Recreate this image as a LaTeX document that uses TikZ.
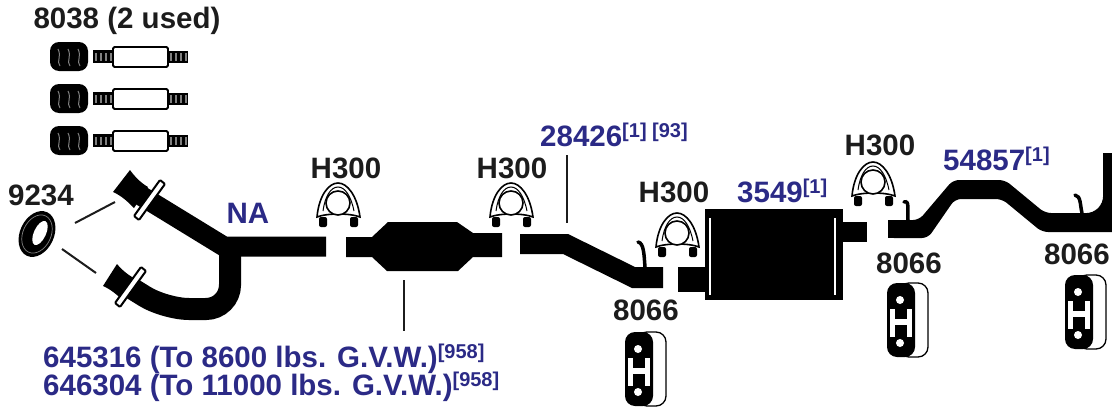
\documentclass[tikz,border=0pt]{standalone}
\usepackage{fontspec}
\setmainfont{Liberation Sans}
\definecolor{partblue}{HTML}{2B2A86}
\definecolor{partblack}{HTML}{1C1C1C}
\newcommand{\bigtxt}{\fontsize{29.5}{33}\selectfont\bfseries}
\newcommand{\suptxt}[1]{\raisebox{9pt}{\fontsize{20}{20}\selectfont\bfseries #1}}
\tikzset{
  partlabel/.style={text=partblack,font=\bigtxt,inner sep=0pt},
  bluelabel/.style={text=partblue,font=\bigtxt,inner sep=0pt},
  leader/.style={partblack,line width=2pt},
  hookline/.style={black,line width=3.5pt,line cap=round},
  pics/clampbolt/.style={code={
    \draw[fill=white,line width=1.6pt] (-21,14) .. controls (-19,-8) and (-9,-20) .. (0,-20) .. controls (9,-20) and (19,-8) .. (22,14) .. controls (12,10) and (-11,10) .. (-21,14) -- cycle;
    \draw[line width=1pt] (-15,8) .. controls (-13,-7) and (-7,-16) .. (0,-16) .. controls (7,-16) and (13,-7) .. (16,8);
    \draw[fill=white,line width=1.6pt] (0,0) circle (12pt);
    \fill[black,rounded corners=2pt] (-19,14) rectangle (-11,24);
    \fill[black,rounded corners=2pt] (12,14) rectangle (20,24);
  }},
  pics/hanger/.style={code={
    \draw[fill=white,line width=1.3pt,rounded corners=10pt] (12,0) rectangle (41,74);
    \fill[black,rounded corners=10pt] (0,0) rectangle (28,74);
    \fill[white] (13,17) circle (4pt);
    \fill[white] (13,60) circle (4pt);
    \fill[white] (3,26) rectangle (8,54);
    \fill[white] (20,26) rectangle (25,54);
    \fill[white] (3,36) rectangle (25,42);
  }},
  pics/isolator/.style={code={
    \fill[black,rounded corners=9pt] (50,-15) rectangle (88,14);
    \draw[gray,line width=1pt] (58,-8) .. controls (62,0) and (56,4) .. (60,9);
    \draw[gray,line width=1pt] (68,-8) .. controls (72,0) and (66,4) .. (70,9);
    \draw[gray,line width=1pt] (78,-8) .. controls (82,0) and (76,4) .. (80,9);
    \fill[black] (93,-7) rectangle (114,6);
    \fill[black] (167,-6) rectangle (188,6);
    \draw[gray,line width=8pt,dash pattern=on 2pt off 3pt] (95,0) -- (113,0);
    \draw[gray,line width=8pt,dash pattern=on 2pt off 3pt] (170,0) -- (187,0);
    \draw[fill=white,line width=1.8pt,rounded corners=1.5pt] (113,-10) rectangle (168,10);
  }}
}
\begin{document}
\begin{tikzpicture}[x=1pt,y=-1pt]
  \useasboundingbox (0,0) rectangle (1112,407);
  \clip (0,0) rectangle (1112,407);

  % Isolators
  \node[partlabel] (lbl8038) at (127,21) {8038 (2 used)};
  \pic at (0,57) {isolator};
  \pic at (0,99) {isolator};
  \pic at (0,141) {isolator};

  % Gasket
  \node[partlabel] (lbl9234) at (41,195) {9234};
  \fill[black] (37,234) ellipse [x radius=24pt,y radius=17pt,rotate=65];
  \draw[gray,line width=.7pt] (37,234) ellipse [x radius=20pt,y radius=14pt,rotate=65];
  \fill[white] (40,233) ellipse [x radius=13pt,y radius=6pt,rotate=65];
  \coordinate (gasketup) at (75,223);
  \coordinate (gasketdn) at (62,249);
  \coordinate (flangeup) at (115,202);
  \coordinate (flangedn) at (96,273);
  \draw[leader] (gasketup) -- (flangeup);
  \draw[leader] (gasketdn) -- (flangedn);

  % Y-pipe
  \draw[black,line width=20pt] (135,192) -- (224,246.5) -- (326,246.5);
  \draw[black,line width=22pt,rounded corners=24pt] (230,240) -- (230,309) -- (165,309) -- (128,286);
  \fill[black] (130,170) -- (113,192) .. controls (122,196) and (128,202) .. (134,208) -- (148,187) .. controls (141,183) and (135,177) .. cycle;
  \fill[black] (117,264) -- (103,286) .. controls (110,289) and (118,295) .. (124,302) -- (136,279) .. controls (129,276) and (122,270) .. cycle;
  \draw[fill=white,line width=2pt,rounded corners=1pt] (160,180) -- (165,184) -- (139,220) -- (134,216) -- cycle;
  \draw[fill=white,line width=2pt,rounded corners=1pt] (141,267) -- (146,271) -- (120,307) -- (115,303) -- cycle;
  \node[bluelabel] (lblna) at (248,213) {NA};

  % Clamps
  \node[partlabel] (lblh1) at (346,168) {H300};
  \pic at (338,203) {clampbolt};
  \node[partlabel] (lblh2) at (512,168) {H300};
  \pic at (511,203) {clampbolt};
  \node[partlabel] (lblh3) at (674,192) {H300};
  \pic at (677,233) {clampbolt};
  \node[partlabel] (lblh4) at (880,145) {H300};
  \pic at (873,182) {clampbolt};

  % Converter
  \fill[black] (346,237) -- (372,237) -- (388,222) -- (457,222) -- (473,233) -- (502,233) -- (502,257) -- (473,257) -- (458,271) -- (387,271) -- (372,257) -- (346,257) -- cycle;
  \coordinate (convdn) at (404,280);
  \coordinate (partsup) at (404,331);
  \draw[leader] (convdn) -- (partsup);
  \node[bluelabel,anchor=base west] (lblconva) at (43,367) {645316 (To 8600 lbs. G.V.W.)\suptxt{[958]}};
  \node[bluelabel,anchor=base west] (lblconvb) at (43,395) {646304 (To 11000 lbs. G.V.W.)\suptxt{[958]}};

  % Intermediate pipe
  \fill[black] (520,234) -- (568,234) -- (635,267) -- (663,267) -- (663,288) -- (632,288) -- (563,254) -- (520,254) -- cycle;
  \draw[hookline] (638,242) .. controls (644,243) and (644,255) .. (645,267);
  \node[bluelabel,anchor=base west] (lbl28426) at (540,146) {28426\suptxt{[1] [93]}};
  \coordinate (pipeup) at (567,223);
  \coordinate (pipelbl) at (567,155);
  \draw[leader] (pipelbl) -- (pipeup);

  % Muffler
  \fill[black] (678,267) rectangle (705,292);
  \fill[black] (705,209) rectangle (843,300);
  \fill[black] (843,222) rectangle (867,242);
  \draw[white,line width=1.2pt] (710,218) -- (710,295);
  \draw[white,line width=1.2pt] (835,218) -- (835,295);
  \node[bluelabel,anchor=base west] (lbl3549) at (737,202) {3549\suptxt{[1]}};

  % Tail pipe
  \fill[black,rounded corners=6pt] (888,220) -- (919,220) -- (953,180) -- (1005,180) -- (1045,213) -- (1093,213) -- (1103,203) -- (1103,153) -- (1125,153) -- (1125,232) -- (1042,232) -- (1002,199) -- (955,199) -- (928,238) -- (888,238) -- cycle;
  \fill[black] (888,220) rectangle (900,238);
  \fill[black] (1103,153) rectangle (1112,175);
  \draw[hookline] (904,202) .. controls (910,200) and (907,210) .. (908,220);
  \draw[hookline] (1075,195) .. controls (1081,196) and (1080,205) .. (1082,213);
  \node[bluelabel,anchor=base west] (lbl54857) at (943,170) {54857\suptxt{[1]}};

  % Hangers
  \node[partlabel] (lblh5) at (646,310) {8066};
  \pic at (625,332) {hanger};
  \node[partlabel] (lblh6) at (909,263) {8066};
  \pic at (887,283) {hanger};
  \node[partlabel] (lblh7) at (1077,254) {8066};
  \pic at (1065,275) {hanger};
\end{tikzpicture}
\end{document}
